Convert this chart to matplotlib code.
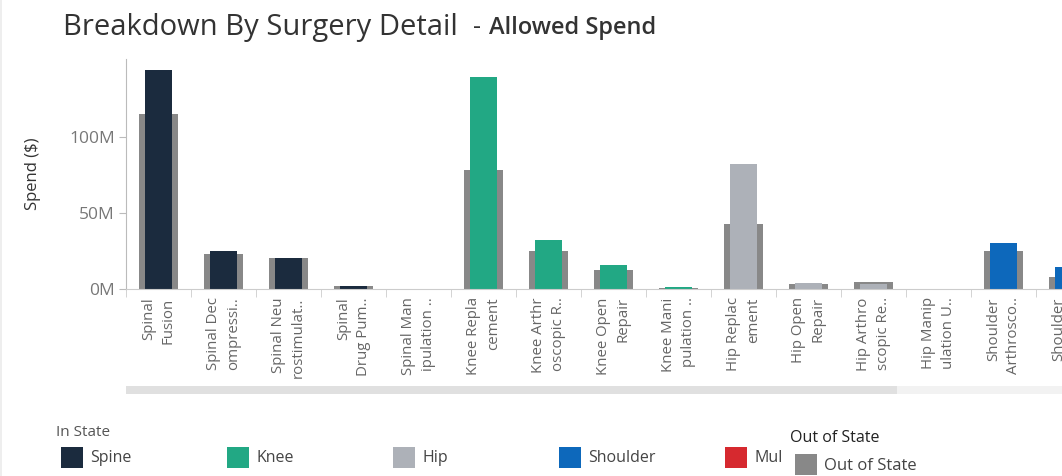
import numpy as np
import matplotlib.pyplot as plt
from matplotlib.patches import Rectangle

plt.rcParams['font.family'] = ['Open Sans', 'DejaVu Sans']

labels = ['Spinal\nFusion', 'Spinal Dec\nompressi..', 'Spinal Neu\nrostimulat..',
          'Spinal\nDrug Pum..', 'Spinal Man\nipulation ..', 'Knee Repla\ncement',
          'Knee Arthr\noscopic R..', 'Knee Open\nRepair', 'Knee Mani\npulation ..',
          'Hip Replac\nement', 'Hip Open\nRepair', 'Hip Arthro\nscopic Re..',
          'Hip Manip\nulation U..', 'Shoulder\nArthrosco..', 'Shoulder\n..']
body_part = ['Spine', 'Spine', 'Spine', 'Spine', 'Spine', 'Knee', 'Knee', 'Knee', 'Knee',
             'Hip', 'Hip', 'Hip', 'Hip', 'Shoulder', 'Shoulder']
in_state = [144, 25, 20.3, 2.2, 0.2, 139, 32, 15.8, 1.1, 82, 4.1, 3, 0, 30, 14.3]
out_state = [115, 23, 20.5, 2.0, 0.1, 78, 25, 12.5, 0.6, 42.8, 3.2, 4.5, 0, 25, 8]

legend_names = ['Spine', 'Knee', 'Hip', 'Shoulder', 'Mul']
colors = {'Spine': '#1b2b3e', 'Knee': '#22a884', 'Hip': '#adb1b8',
          'Shoulder': '#0d68bb', 'Mul': '#d6292f'}
out_color = '#888888'

W, H = 1062, 476
fig = plt.figure(figsize=(W / 100, H / 100), dpi=100)
ax = fig.add_axes([126 / W, (H - 289) / H, (W - 126) / W, 230 / H])

x = np.arange(len(labels))
ins = np.array(in_state) * 1e6
outs = np.array(out_state) * 1e6
ax.bar(x, outs, width=0.61, color=out_color, zorder=1)
ax.bar(x, ins, width=0.43, color=[colors[b] for b in body_part], zorder=2)

ax.set_yticks([0, 50e6, 100e6])
ax.set_yticklabels(['0M', '50M', '100M'], fontsize=12.5, color='#777777')
ax.set_xticks([])
ax.set_xticks(np.arange(len(labels) + 1) - 0.5, minor=True)
ax.set_xlim(-0.5, -0.5 + (W - 126) / 65)
ax.set_ylim(0, 151e6)
ax.tick_params(axis='x', which='minor', length=6, color='#cccccc')
ax.tick_params(axis='y', length=5, color='#bbbbbb', pad=3)
for side in ['top', 'right']:
    ax.spines[side].set_visible(False)
ax.spines['left'].set_color('#bbbbbb')
ax.spines['bottom'].set_color('#cccccc')
ax.set_ylabel('Spend ($)', fontsize=12, color='#333333', labelpad=20)

# category labels (the last one runs off the right edge, like the reference)
for xi, lab in zip(x, labels):
    ax.annotate(lab, xy=(xi, 0), xycoords=('data', 'axes fraction'),
                xytext=(0, -6), textcoords='offset points', rotation=90,
                ha='center', va='top', multialignment='right', fontsize=10.8,
                color='#666666', linespacing=1.45, annotation_clip=False)

# title
fig.text(63 / W, 1 - 27 / H, 'Breakdown By Surgery Detail', fontsize=21, color='#333333',
         va='center', ha='left')
fig.text(473 / W, 1 - 27 / H, '-', fontsize=18, color='#333333', va='center', ha='left')
fig.text(489 / W, 1 - 28 / H, 'Allowed Spend', fontsize=17, color='#333333',
         va='center', ha='left', fontweight='semibold')

# scrollbar
fig.add_artist(Rectangle((126 / W, 1 - 394 / H), (W - 126) / W, 8 / H,
                         transform=fig.transFigure, color='#f2f2f2', lw=0))
fig.add_artist(Rectangle((126 / W, 1 - 394 / H), (897 - 126) / W, 8 / H,
                         transform=fig.transFigure, color='#e0e0e0', lw=0))
# panel border
fig.add_artist(Rectangle((0, 0), 2 / W, 1, transform=fig.transFigure,
                         color='#eeeeee', lw=0))

# legend
fig.text(56 / W, 1 - 433 / H, 'In State', fontsize=11, color='#555555', va='center')
for i, name in enumerate(legend_names):
    x0 = 60.5 + i * 166
    fig.add_artist(Rectangle((x0 / W, 1 - 468 / H), 22 / W, 21 / H,
                             transform=fig.transFigure, color=colors[name], lw=0))
    fig.text((x0 + 30) / W, 1 - 458 / H, name, fontsize=11.5, color='#444444', va='center')
fig.text(790 / W, 1 - 438 / H, 'Out of State', fontsize=11.5, color='#222222', va='center')
fig.add_artist(Rectangle((795 / W, 1 - 475 / H), 22 / W, 21 / H,
                         transform=fig.transFigure, color=out_color, lw=0))
fig.text(824 / W, 1 - 466 / H, 'Out of State', fontsize=12, color='#444444', va='center')

fig.savefig('out.png', dpi=100)
